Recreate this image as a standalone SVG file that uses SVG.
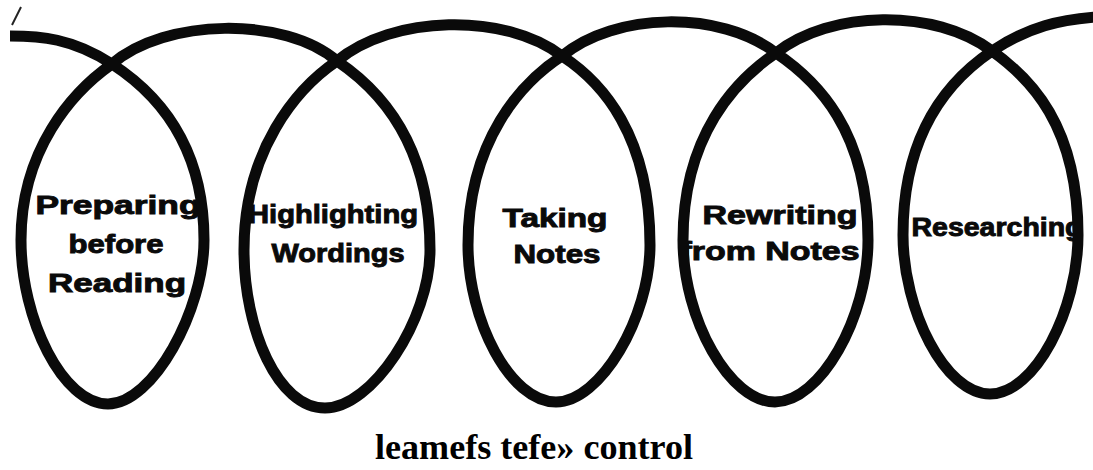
<svg xmlns="http://www.w3.org/2000/svg" width="1093" height="470" viewBox="0 0 1093 470">
  <style>
    .lbl { font-family: "Liberation Sans", Arial, sans-serif; font-weight: bold; font-size: 25px; fill: #0a0a0a; stroke: #0a0a0a; stroke-width: 0.9; text-anchor: middle; }
    .coil { fill: none; stroke: #0a0a0a; stroke-width: 11; stroke-linejoin: round; }
    .cap { font-family: "Liberation Serif", "Times New Roman", serif; font-weight: bold; font-size: 35px; fill: #000; text-anchor: middle; }
  </style>
  <rect width="1093" height="470" fill="#ffffff"/>
  <g id="node-preparing">
    <text class="lbl" x="118" y="214" textLength="165" lengthAdjust="spacingAndGlyphs">Preparing</text>
    <text class="lbl" x="116" y="253" textLength="95" lengthAdjust="spacingAndGlyphs">before</text>
    <text class="lbl" x="117" y="292" textLength="138" lengthAdjust="spacingAndGlyphs">Reading</text>
  </g>
  <g id="node-highlighting">
    <text class="lbl" x="333" y="223" textLength="170" lengthAdjust="spacingAndGlyphs">Highlighting</text>
    <text class="lbl" x="338" y="262" textLength="133" lengthAdjust="spacingAndGlyphs">Wordings</text>
  </g>
  <g id="node-taking-notes">
    <text class="lbl" x="555" y="227" textLength="105" lengthAdjust="spacingAndGlyphs">Taking</text>
    <text class="lbl" x="557" y="263" textLength="87" lengthAdjust="spacingAndGlyphs">Notes</text>
  </g>
  <g id="node-rewriting">
    <text class="lbl" x="780" y="224" textLength="155" lengthAdjust="spacingAndGlyphs">Rewriting</text>
    <text class="lbl" x="770" y="260" textLength="179" lengthAdjust="spacingAndGlyphs">from Notes</text>
  </g>
  <g id="node-researching">
    <text class="lbl" x="997" y="236" textLength="171" lengthAdjust="spacingAndGlyphs">Researching</text>
  </g>
  <g id="connectors">
    <path class="coil" d="M 10,36 C 40,36 72,38 112,64
      C 152,90 204,140 204,240 C 204,310 153,404 108,404 C 63,404 21,320 21,240 C 21,150 72,92 112,64
      C 165,18 285,16 337,61
      C 377,88 430,140 430,250 C 430,320 372,408 325,408 C 278,408 244,330 244,250 C 244,150 297,88 337,61
      C 392,15 505,12 562,56
      C 602,82 650,135 650,245 C 650,318 600,402 556,402 C 510,402 468,320 468,245 C 468,140 522,82 562,56
      C 615,12 720,10 776,53
      C 816,80 868,130 868,240 C 868,318 820,402 775,402 C 730,402 683,320 683,240 C 683,135 736,80 776,53
      C 830,10 935,8 992,51
      C 1030,78 1078,125 1078,235 C 1078,310 1035,394 990,394 C 945,394 903,310 903,235 C 903,130 952,78 992,51
      C 1030,26 1060,20 1096,17"/>
    <path d="M 12,25 L 21,7" fill="none" stroke="#222" stroke-width="2"/>
  </g>
  <g id="caption">
    <text class="cap" x="534" y="459" textLength="318" lengthAdjust="spacingAndGlyphs">leamefs tefe» control</text>
  </g>
</svg>
